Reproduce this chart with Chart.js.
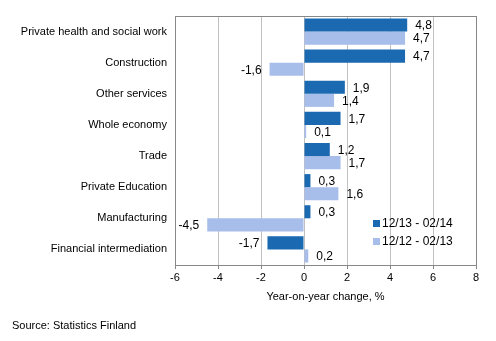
<!DOCTYPE html>
<html>
<head>
<meta charset="utf-8">
<script src="https://cdn.jsdelivr.net/npm/chart.js@4"></script>
<style>
  html, body { margin: 0; padding: 0; background: #fff; }
  #wrap { width: 496px; height: 341px; }
</style>
</head>
<body>
<div id="wrap"><canvas id="chart" width="496" height="341"></canvas></div>
<script>
// categories and series
const categories = ["Private health and social work", "Construction", "Other services", "Whole economy",
    "Trade", "Private Education", "Manufacturing", "Financial intermediation"];
const recent = [4.8, 4.7, 1.9, 1.7, 1.2, 0.3, 0.3, -1.7];
const previous = [4.7, -1.6, 1.4, 0.1, 1.7, 1.6, -4.5, 0.2];
const seriesNames = ["12/13 - 02/14", "12/12 - 02/13"];
const xTicks = [-6, -4, -2, 0, 2, 4, 6, 8];

const darkBlue = "#1a69b1";
const lightBlue = "#a7bdea";
const font = "Liberation Sans, Arial, sans-serif";

const fmt = v => String(v.toFixed(1)).replace(".", ",");

// value labels next to each bar end
const valueLabels = {
    id: "valueLabels",
    afterDatasetsDraw(chart) {
        const ctx = chart.ctx;
        ctx.save();
        ctx.font = "12px " + font;
        ctx.fillStyle = "#000";
        ctx.textBaseline = "middle";
        chart.data.datasets.forEach((ds, i) => {
            chart.getDatasetMeta(i).data.forEach((bar, j) => {
                const v = ds.data[j];
                if (v >= 0) {
                    ctx.textAlign = "left";
                    ctx.fillText(fmt(v), bar.x + 8, bar.y + 1);
                } else {
                    ctx.textAlign = "right";
                    ctx.fillText(fmt(v), bar.x - 8, bar.y + 1);
                }
            });
        });
        ctx.restore();
    }
};

// plot frame, legend inside the plot, source note
const extras = {
    id: "extras",
    afterDraw(chart) {
        const ctx = chart.ctx;
        const a = chart.chartArea;
        ctx.save();
        ctx.strokeStyle = "#888";
        ctx.lineWidth = 1;
        ctx.strokeRect(Math.round(a.left) + 0.5, Math.round(a.top) + 0.5,
            Math.round(a.right - a.left), Math.round(a.bottom - a.top));

        ctx.font = "12px " + font;
        ctx.textBaseline = "middle";
        ctx.textAlign = "left";
        const colors = [darkBlue, lightBlue];
        seriesNames.forEach((name, i) => {
            const y = 224 + i * 18;
            ctx.fillStyle = colors[i];
            ctx.fillRect(373, y - 4, 7, 7);
            ctx.fillStyle = "#000";
            ctx.fillText(name, 382, y);
        });

        ctx.font = "11px " + font;
        ctx.fillText("Source: Statistics Finland", 12, 326);
        ctx.restore();
    }
};

new Chart(document.getElementById("chart"), {
    type: "bar",
    data: {
        labels: categories,
        datasets: [
            { label: seriesNames[0], data: recent, backgroundColor: darkBlue },
            { label: seriesNames[1], data: previous, backgroundColor: lightBlue }
        ]
    },
    options: {
        indexAxis: "y",
        responsive: false,
        animation: false,
        layout: { padding: { top: 16, right: 20, left: 0, bottom: 35 } },
        datasets: { bar: { categoryPercentage: 0.84, barPercentage: 1.0 } },
        plugins: {
            legend: { display: false },
            tooltip: { enabled: false }
        },
        scales: {
            x: {
                min: -6,
                max: 8,
                afterBuildTicks: s => { s.ticks = xTicks.map(v => ({ value: v })); },
                afterFit: s => { s.height = 41; },
                ticks: { color: "#000", font: { family: font, size: 11 }, padding: 2 },
                grid: { color: "#c0c0c0", tickColor: "#888", tickLength: 4, drawTicks: true },
                border: { color: "#888" },
                title: {
                    display: true,
                    text: "Year-on-year change, %",
                    color: "#000",
                    font: { family: font, size: 11 },
                    padding: { top: 4, bottom: 2 }
                }
            },
            y: {
                afterFit: s => { s.width = 175; },
                ticks: { color: "#000", font: { family: font, size: 11 }, padding: 8 },
                grid: { display: false, drawTicks: false },
                border: { color: "#888" }
            }
        }
    },
    plugins: [valueLabels, extras]
});
</script>
</body>
</html>
